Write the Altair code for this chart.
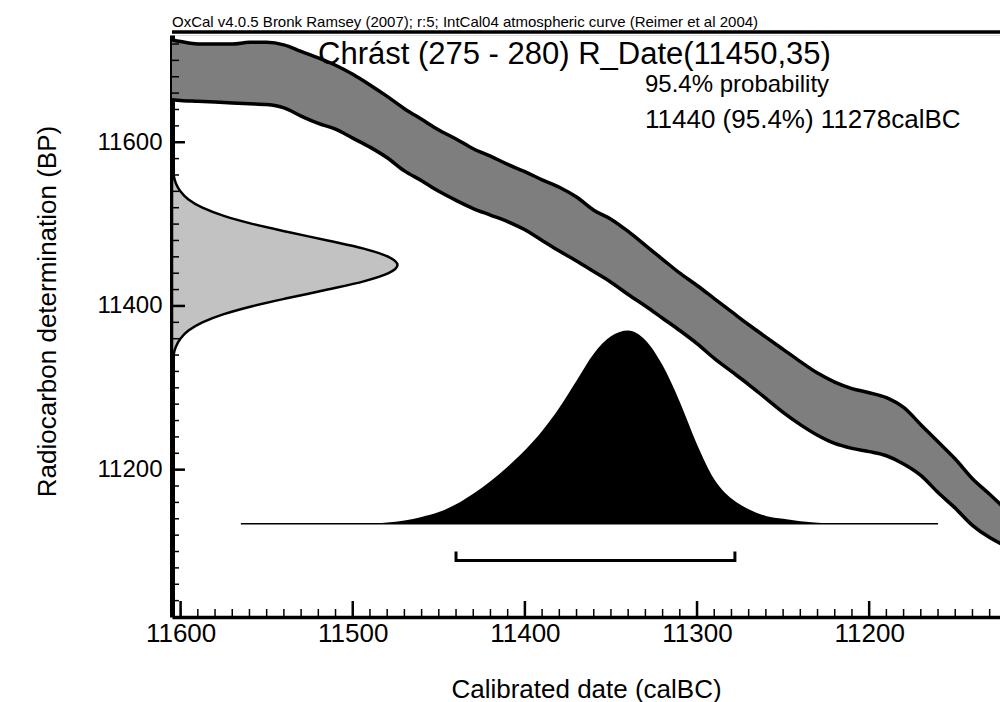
import altair as alt
import pandas as pd

FONT = "Liberation Sans"

# ---------------- data ----------------
# calibration curve (IntCal04) 2-sigma band, calBC year vs BP
cal_years = [11605, 11600, 11590, 11580, 11570, 11560, 11550, 11540, 11530, 11520,
             11510, 11500, 11490, 11480, 11470, 11460, 11450, 11440, 11430, 11420,
             11410, 11400, 11390, 11380, 11370, 11360, 11350, 11340, 11330, 11320,
             11310, 11300, 11290, 11280, 11270, 11260, 11250, 11240, 11230, 11220,
             11210, 11200, 11190, 11180, 11170, 11160, 11150, 11140, 11130, 11120]
band_upper = [11725, 11723, 11720, 11720, 11720, 11722, 11722, 11719, 11711, 11703,
              11694, 11683, 11670, 11656, 11641, 11628, 11615, 11604, 11592, 11583,
              11573, 11564, 11554, 11545, 11533, 11517, 11506, 11491, 11474, 11457,
              11440, 11425, 11409, 11393, 11377, 11362, 11347, 11332, 11318, 11307,
              11299, 11294, 11288, 11276, 11255, 11234, 11213, 11189, 11170, 11150]
band_lower = [11652, 11651, 11650, 11649, 11648, 11647, 11646, 11642, 11632, 11623,
              11616, 11605, 11594, 11581, 11565, 11553, 11540, 11529, 11519, 11511,
              11503, 11493, 11480, 11467, 11455, 11442, 11429, 11414, 11400, 11385,
              11370, 11354, 11336, 11320, 11304, 11287, 11270, 11255, 11242, 11232,
              11226, 11222, 11217, 11207, 11193, 11172, 11153, 11132, 11117, 11106]

# radiocarbon determination R_Date(11450,35): BP vs relative probability
rc_bp = [11330, 11340, 11350, 11360, 11370, 11380, 11390, 11400, 11410, 11420,
         11430, 11440, 11450, 11460, 11470, 11480, 11490, 11500, 11510, 11520,
         11530, 11540, 11550, 11560, 11570]
rc_prob = [0.003, 0.007, 0.017, 0.037, 0.073, 0.135, 0.23, 0.36, 0.52, 0.69,
           0.85, 0.96, 1.0, 0.96, 0.85, 0.69, 0.52, 0.36, 0.23, 0.135,
           0.073, 0.037, 0.017, 0.007, 0.003]

# calibrated distribution: calBC vs relative probability
post_years = [11490, 11480, 11470, 11460, 11450, 11440, 11430, 11420, 11410, 11400,
              11390, 11380, 11370, 11360, 11350, 11340, 11330, 11320, 11310, 11300,
              11290, 11280, 11270, 11260, 11250, 11240, 11230, 11220]
post_prob = [0, 0.006, 0.017, 0.035, 0.06, 0.10, 0.155, 0.22, 0.295, 0.38,
             0.48, 0.60, 0.74, 0.88, 0.97, 1.0, 0.95, 0.82, 0.63, 0.41,
             0.23, 0.13, 0.075, 0.04, 0.025, 0.012, 0.005, 0]

# 95.4% range bracket (calBC)
range_from = 11440
range_to = 11278
# extent of the distribution baseline (calBC)
baseline_years = [11565, 11160]

# axis ticks
x_major = [11600, 11500, 11400, 11300, 11200]
x_minor = list(range(11600, 11120, -10))
y_major = [11200, 11400, 11600]
y_minor = list(range(11040, 11731, 20))

header_text = "OxCal v4.0.5 Bronk Ramsey (2007); r:5; IntCal04 atmospheric curve (Reimer et al 2004)"
name_text = "Chrást (275 - 280) R_Date(11450,35)"
prob_text = "95.4% probability"
range_text = "11440 (95.4%) 11278calBC"
x_title = "Calibrated date (calBC)"
y_title = "Radiocarbon determination (BP)"

# ---------------- layout constants ----------------
W, H = 828, 582
X_DOMAIN = [11605, 11124]
Y_DOMAIN = [11020, 11731]
AXIS_YEAR = 11605      # left axis, baseline of the radiocarbon curve
RC_AMP = 131           # years of horizontal extent at peak
BASE_BP = 11134        # baseline of calibrated distribution
POST_AMP = 236         # BP units of peak height
BRACKET_BP = 11089
BRACKET_TIP = 11100

xs = alt.Scale(domain=X_DOMAIN, nice=False, zero=False)
ys = alt.Scale(domain=Y_DOMAIN, nice=False, zero=False)

band_df = pd.DataFrame({"year": cal_years, "upper": band_upper, "lower": band_lower})
rc_df = pd.DataFrame({"bp": rc_bp, "p": rc_prob})
rc_df["x0"] = AXIS_YEAR
rc_df["x1"] = AXIS_YEAR - rc_df["p"] * RC_AMP
post_df = pd.DataFrame({"year": post_years, "p": post_prob})
post_df["y1"] = BASE_BP + post_df["p"] * POST_AMP
post_df["y0"] = BASE_BP
bracket_df = pd.DataFrame({
    "year": [range_from, range_from, range_to, range_to],
    "bp": [BRACKET_TIP, BRACKET_BP, BRACKET_BP, BRACKET_TIP],
    "o": [0, 1, 2, 3],
})
baseline_df = pd.DataFrame({"a": [baseline_years[0]], "b": [baseline_years[1]], "bp": [BASE_BP]})

x_axis = alt.Axis(values=x_major, format="d", ticks=False, tickSize=0, grid=False,
                  domainColor="black", domainWidth=3.5,
                  labelFont=FONT, labelFontSize=26, labelColor="black", labelPadding=3,
                  labelFlush=False,
                  title=x_title, titleFont=FONT, titleFontSize=26, titleFontWeight="normal",
                  titleColor="black", titleY=80, titleBaseline="alphabetic")
y_axis = alt.Axis(values=y_major, format="d", ticks=False, tickSize=0, grid=False,
                  domainColor="black", domainWidth=5,
                  labelFont=FONT, labelFontSize=24, labelColor="black", labelPadding=10,
                  labelFlush=False,
                  title=y_title, titleFont=FONT, titleFontSize=26, titleFontWeight="normal",
                  titleColor="black", titleX=-117, titleY=276, titleBaseline="alphabetic",
                  titleAngle=270)

band = alt.Chart(band_df)
band_area = band.mark_area(color="#7e7e7e", clip=True, interpolate="monotone").encode(
    x=alt.X("year:Q", scale=xs, axis=x_axis),
    y=alt.Y("upper:Q", scale=ys, axis=y_axis),
    y2="lower:Q",
)
band_up = band.mark_line(color="black", strokeWidth=3.5, clip=True, interpolate="monotone").encode(
    x=alt.X("year:Q", scale=xs), y=alt.Y("upper:Q", scale=ys))
band_lo = band.mark_line(color="black", strokeWidth=3.5, clip=True, interpolate="monotone").encode(
    x=alt.X("year:Q", scale=xs), y=alt.Y("lower:Q", scale=ys))

rc_area = alt.Chart(rc_df).mark_area(orient="horizontal", color="#c2c2c2", stroke="black",
                                     strokeWidth=2.5, interpolate="monotone", clip=True).encode(
    y=alt.Y("bp:Q", scale=ys),
    x=alt.X("x1:Q", scale=xs),
    x2="x0:Q",
)

post_area = alt.Chart(post_df).mark_area(color="black", interpolate="monotone", clip=True).encode(
    x=alt.X("year:Q", scale=xs),
    y=alt.Y("y1:Q", scale=ys),
    y2="y0:Q",
)

baseline = alt.Chart(baseline_df).mark_rule(color="black", strokeWidth=1.5).encode(
    x=alt.X("a:Q", scale=xs), x2="b:Q",
    y=alt.Y("bp:Q", scale=ys))

bracket = alt.Chart(bracket_df).mark_line(color="black", strokeWidth=3).encode(
    x=alt.X("year:Q", scale=xs),
    y=alt.Y("bp:Q", scale=ys),
    order="o:Q")

def xticks(vals, length, width):
    return alt.Chart(pd.DataFrame({"t": vals})).mark_tick(
        color="black", orient="vertical", size=length, thickness=width, opacity=1).encode(
        x=alt.X("t:Q", scale=xs), y=alt.value(H - length / 2))

def yticks(vals, length, width):
    return alt.Chart(pd.DataFrame({"t": vals})).mark_rule(color="black", strokeWidth=width).encode(
        y=alt.Y("t:Q", scale=ys), x=alt.value(0), x2=alt.value(length))

one = pd.DataFrame({"k": [0]})
top_frame = alt.Chart(one).mark_rule(color="black", strokeWidth=3.5).encode(
    x=alt.value(0), x2=alt.value(W), y=alt.value(-3))

def label(txt, x, y, size, align="left"):
    return alt.Chart(one).mark_text(font=FONT, fontSize=size, align=align, baseline="alphabetic",
                                    color="black").encode(
        x=alt.value(x), y=alt.value(y), text=alt.value(txt))

chart = alt.layer(
    band_area, band_up, band_lo,
    rc_area, post_area, baseline, bracket,
    xticks(x_minor, 8, 1.5), xticks(x_major, 16, 2.5),
    yticks(y_minor, 7, 1.5), yticks(y_major, 13, 2.5),
    top_frame,
    label(header_text, 0, -8, 15),
    label(name_text, 146, 29, 31),
    label(prob_text, 473, 57, 24),
    label(range_text, 473, 93, 26),
).properties(
    width=W, height=H,
    padding={"left": 172, "top": 35, "right": 0, "bottom": 85},
    autosize=alt.AutoSizeParams(type="none"),
).configure_view(stroke=None).configure(background="white")

chart.save("out.html", embed_options={"renderer": "svg", "actions": False})
